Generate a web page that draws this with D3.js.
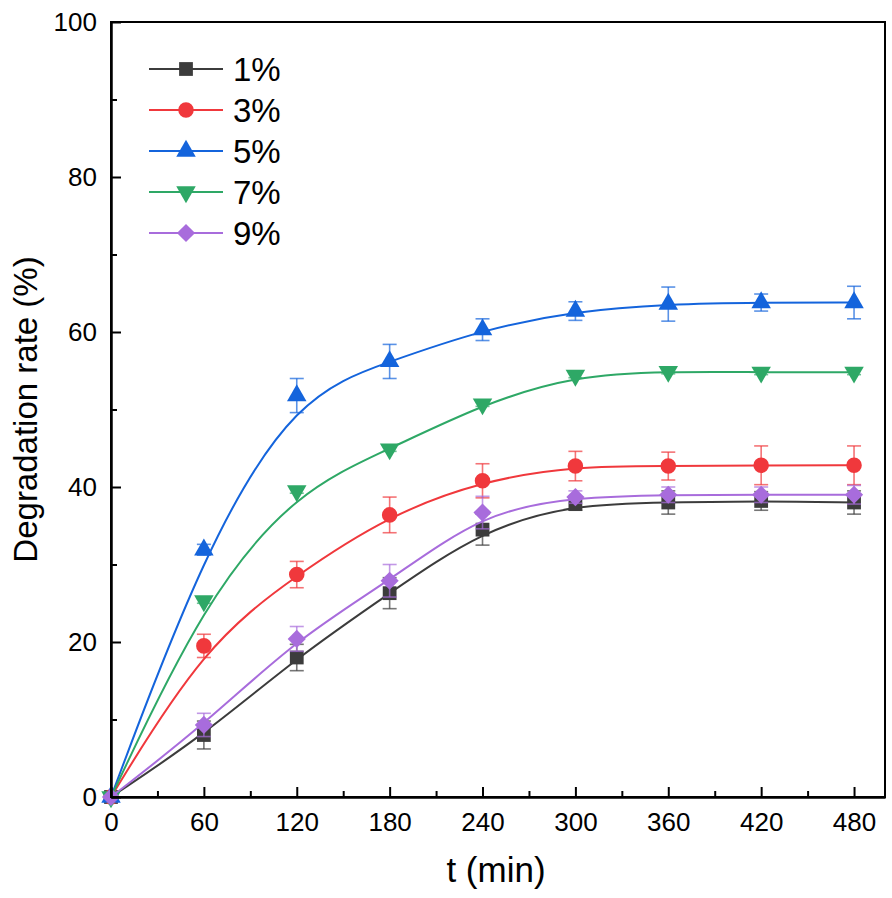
<!DOCTYPE html>
<html>
<head>
<meta charset="utf-8">
<script src="https://cdn.jsdelivr.net/npm/d3@7"></script>
<style>
  body { margin: 0; background: #fff; }
  text { font-family: Arial, "Liberation Sans", sans-serif; fill: #000; }
</style>
</head>
<body>
<div id="chart"></div>
<script>
// data
const times = [0, 60, 120, 180, 240, 300, 360, 420, 480];
const seriesNames = ["1%", "3%", "5%", "7%", "9%"];
const rate1 = [0, 8.0, 18.0, 26.3, 34.5, 37.8, 38.0, 38.2, 38.0];
const err1 = [0, 1.8, 1.7, 2.0, 2.0, 0.8, 1.5, 1.2, 1.5];
const rate3 = [0, 19.5, 28.7, 36.4, 40.8, 42.7, 42.7, 42.8, 42.8];
const err3 = [0, 1.5, 1.7, 2.3, 2.2, 1.9, 1.8, 2.5, 2.5];
const rate5 = [0, 31.9, 51.8, 56.2, 60.3, 62.7, 63.6, 63.8, 63.8];
const err5 = [0, 0.7, 2.2, 2.2, 1.4, 1.2, 2.2, 1.1, 2.1];
const rate7 = [0, 25.3, 39.5, 44.9, 50.7, 54.4, 54.9, 54.8, 54.8];
const err7 = [0, 0.3, 0.3, 0.3, 0.3, 0.3, 0.3, 0.3, 0.3];
const rate9 = [0, 9.3, 20.4, 27.9, 36.7, 38.7, 39.0, 39.0, 39.0];
const err9 = [0, 1.5, 1.6, 2.1, 2.1, 0.8, 1.0, 1.0, 1.2];
const xTicks = [0, 60, 120, 180, 240, 300, 360, 420, 480];
const yTicks = [0, 20, 40, 60, 80, 100];

const colors = ["#3c3c3c", "#f0383c", "#1464dc", "#2ea866", "#a86cdc"];
const symbols = ["square", "circle", "up", "down", "diamond"];
const rates = [rate1, rate3, rate5, rate7, rate9];
const errs = [err1, err3, err5, err7, err9];

const series = seriesNames.map((name, i) => ({
  name: name,
  color: colors[i],
  symbol: symbols[i],
  values: times.map((t, j) => ({t: t, v: rates[i][j], e: errs[i][j]}))
}));

const W = 892, H = 898;
const margin = {top: 22, right: 7, bottom: 101, left: 111};
const width = W - margin.left - margin.right,
  height = H - margin.top - margin.bottom;

const svg = d3.select("#chart").append("svg")
  .attr("width", W).attr("height", H)
  .append("g")
  .attr("transform", `translate(${margin.left},${margin.top})`);

const x = d3.scaleLinear().domain([0, 500]).range([0, width]);
const y = d3.scaleLinear().domain([0, 100]).range([height, 0]);

// marker shapes (Origin style)
function symbolPath(sym) {
  if (sym === "square") return d3.symbol().type(d3.symbolSquare).size(190)();
  if (sym === "circle") return d3.symbol().type(d3.symbolCircle).size(190)();
  if (sym === "diamond") return d3.symbol().type(d3.symbolSquare).size(165)();
  return d3.symbol().type(d3.symbolTriangle).size(165)();
}
function symbolRot(sym) {
  if (sym === "down") return " rotate(180)";
  if (sym === "diamond") return " rotate(45)";
  return "";
}

// curves
const line = d3.line()
  .x(d => x(d.t))
  .y(d => y(d.v))
  .curve(d3.curveBasis);

series.forEach((s, i) => {
  const g = svg.append("g");
  // error bars
  const eb = g.selectAll(".err")
    .data(s.values.filter(d => d.e > 0))
    .join("g")
    .attr("stroke", s.color)
    .attr("stroke-opacity", 0.7)
    .attr("stroke-width", 1.6);
  eb.append("line")
    .attr("x1", d => x(d.t)).attr("x2", d => x(d.t))
    .attr("y1", d => y(d.v - d.e)).attr("y2", d => y(d.v + d.e));
  eb.append("line")
    .attr("x1", d => x(d.t) - 7).attr("x2", d => x(d.t) + 7)
    .attr("y1", d => y(d.v + d.e)).attr("y2", d => y(d.v + d.e));
  eb.append("line")
    .attr("x1", d => x(d.t) - 7).attr("x2", d => x(d.t) + 7)
    .attr("y1", d => y(d.v - d.e)).attr("y2", d => y(d.v - d.e));

  g.append("path")
    .datum(s.values)
    .attr("d", line)
    .style("fill", "none")
    .style("stroke", s.color)
    .style("stroke-width", 2);

  g.selectAll(".pt")
    .data(s.values)
    .join("path")
    .attr("d", symbolPath(s.symbol))
    .attr("transform", d => `translate(${x(d.t)},${y(d.v)})` + symbolRot(s.symbol))
    .style("fill", s.color);
});

// axes with inward ticks
const xAxis = svg.append("g").attr("transform", `translate(0,${height})`);
xAxis.call(d3.axisBottom(x).tickValues(xTicks).tickSize(-10).tickPadding(16).tickSizeOuter(0));
const xMinor = svg.append("g").attr("transform", `translate(0,${height})`);
xMinor.call(d3.axisBottom(x).tickValues(d3.range(30, 500, 60)).tickSize(-6).tickFormat("").tickSizeOuter(0));

const yAxis = svg.append("g");
yAxis.call(d3.axisLeft(y).tickValues(yTicks).tickSize(-10).tickPadding(14).tickSizeOuter(0));
const yMinor = svg.append("g");
yMinor.call(d3.axisLeft(y).tickValues(d3.range(10, 100, 20)).tickSize(-6).tickFormat("").tickSizeOuter(0));

[xAxis, xMinor, yAxis, yMinor].forEach(a => {
  a.selectAll("line").attr("stroke", "#000").attr("stroke-width", 2);
  a.select(".domain").attr("stroke", "#000").attr("stroke-width", 2);
  a.selectAll("text")
    .style("font-size", "26px")
    .style("font-family", "Arial, 'Liberation Sans', sans-serif")
    .attr("fill", "#000");
});

// frame top and right
svg.append("rect")
  .attr("x", 0).attr("y", 0)
  .attr("width", width).attr("height", height)
  .style("fill", "none")
  .style("stroke", "#000")
  .style("stroke-width", 2);

// axis titles
svg.append("text")
  .attr("x", width / 2 - 2).attr("y", height + 85)
  .style("text-anchor", "middle")
  .style("font-size", "35px")
  .text("t (min)");

svg.append("text")
  .attr("transform", `translate(${-74},${height / 2}) rotate(-90)`)
  .style("text-anchor", "middle")
  .style("font-size", "33px")
  .text("Degradation rate (%)");

// legend
const legend = svg.append("g").attr("transform", "translate(38,47)");
series.forEach((s, i) => {
  const row = legend.append("g").attr("transform", `translate(0,${i * 41})`);
  row.append("line")
    .attr("x1", 0).attr("x2", 74)
    .attr("stroke", s.color).attr("stroke-width", 2);
  row.append("path")
    .attr("d", symbolPath(s.symbol))
    .attr("transform", `translate(37,0)` + symbolRot(s.symbol))
    .style("fill", s.color);
  row.append("text")
    .attr("x", 84).attr("y", 12)
    .style("font-size", "33px")
    .text(s.name);
});
</script>
</body>
</html>
